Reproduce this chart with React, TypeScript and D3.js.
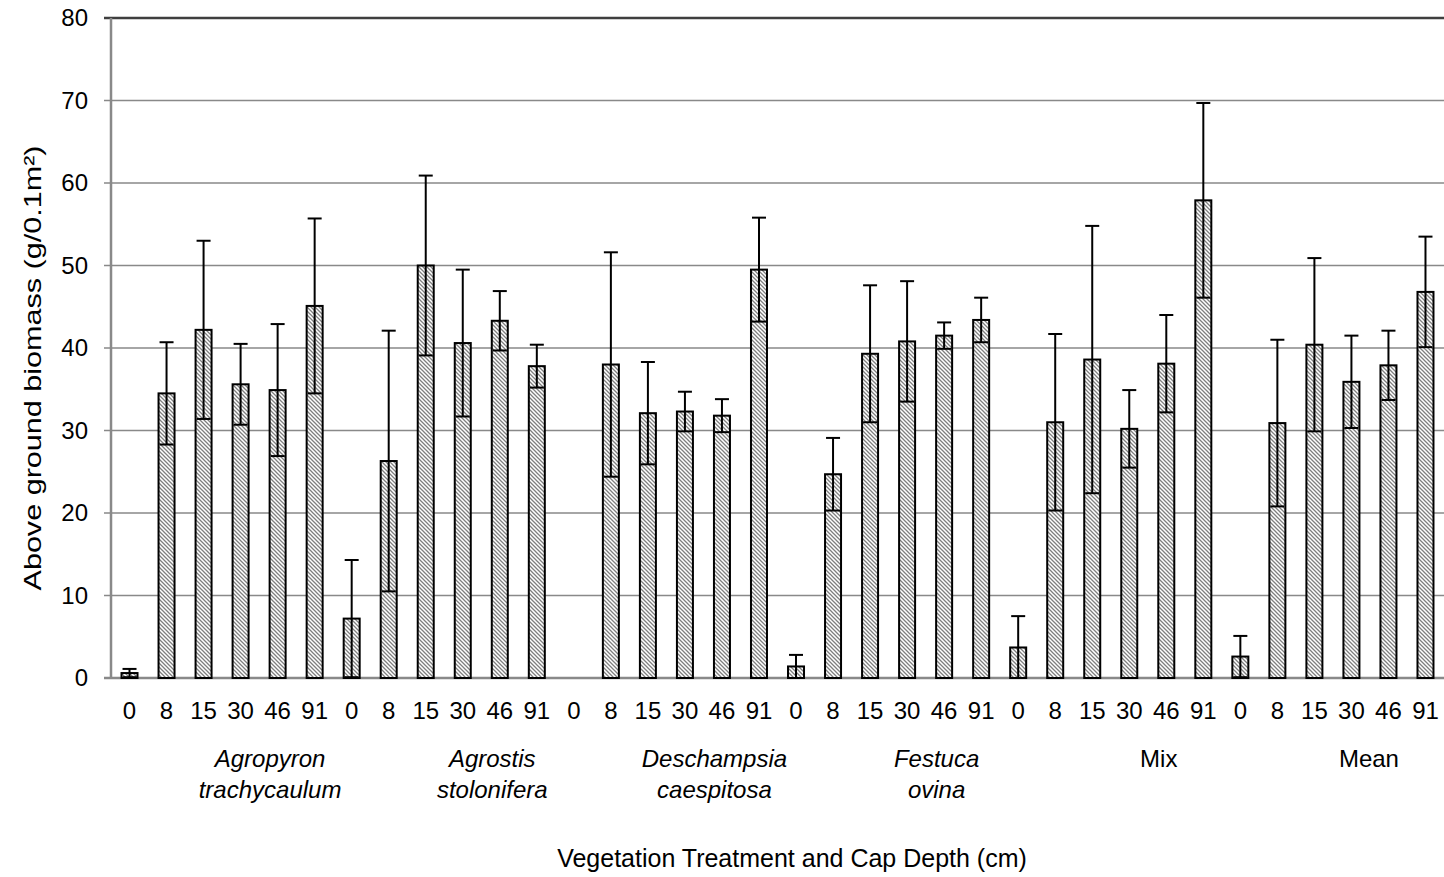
import React from "react";
import * as d3 from "d3";

const groups = ["Agropyron\ntrachycaulum", "Agrostis\nstolonifera", "Deschampsia\ncaespitosa", "Festuca\novina", "Mix", "Mean"];
const italicGroups = [true, true, true, true, false, false];
const depths = ["0", "8", "15", "30", "46", "91"];

const agropyronMean = [0.6, 34.5, 42.2, 35.6, 34.9, 45.1];
const agropyronErr = [0.5, 6.2, 10.8, 4.9, 8.0, 10.6];
const agrostisMean = [7.2, 26.3, 50.0, 40.6, 43.3, 37.8];
const agrostisErr = [7.1, 15.8, 10.9, 8.9, 3.6, 2.6];
const deschampsiaMean = [0, 38.0, 32.1, 32.3, 31.8, 49.5];
const deschampsiaErr = [0, 13.6, 6.2, 2.4, 2.0, 6.3];
const festucaMean = [1.4, 24.7, 39.3, 40.8, 41.5, 43.4];
const festucaErr = [1.4, 4.4, 8.3, 7.3, 1.6, 2.7];
const mixMean = [3.7, 31.0, 38.6, 30.2, 38.1, 57.9];
const mixErr = [3.8, 10.7, 16.2, 4.7, 5.9, 11.8];
const meanMean = [2.6, 30.9, 40.4, 35.9, 37.9, 46.8];
const meanErr = [2.5, 10.1, 10.5, 5.6, 4.2, 6.7];

const yTicks = [0, 10, 20, 30, 40, 50, 60, 70, 80];

const allMeans = [agropyronMean, agrostisMean, deschampsiaMean, festucaMean, mixMean, meanMean];
const allErrs = [agropyronErr, agrostisErr, deschampsiaErr, festucaErr, mixErr, meanErr];

const W = 1444;
const H = 877;
const left = 111;
const right = 1444;
const top = 18;
const bottom = 678;
const font = "'Liberation Sans', Arial, sans-serif";

export default function App() {
  const rows = allMeans.flatMap((ms, g) =>
    ms.map((m, i) => ({ key: `${g}-${i}`, g, depth: depths[i], mean: m, err: allErrs[g][i] }))
  );
  const x = d3.scaleBand<string>().domain(rows.map((r) => r.key)).range([left, right]).padding(0);
  const y = d3.scaleLinear().domain([0, 80]).range([bottom, top]);
  const bw = 16;
  const cap = 14;

  return (
    <svg width={W} height={H} style={{ position: "absolute", left: 0, top: 0, background: "#fff" }} fontFamily={font}>
      <defs>
        <pattern id="hatch" patternUnits="userSpaceOnUse" width={4} height={4}>
          <rect width={4} height={4} fill="#fff" />
          <path d="M-1,-1 L5,5 M-1,3 L1,5 M3,-1 L5,1" stroke="#7f7f7f" strokeWidth={1.3} />
        </pattern>
      </defs>
      {yTicks.map((t) => (
        <g key={t}>
          <line
            x1={left - 7}
            x2={right}
            y1={y(t)}
            y2={y(t)}
            stroke={t === 80 ? "#3f3f3f" : "#898989"}
            strokeWidth={t === 80 ? 2.5 : t === 0 ? 2.5 : 1.6}
          />
          <text x={88} y={y(t)} dy="0.35em" textAnchor="end" fontSize={24} fill="#000">
            {t}
          </text>
        </g>
      ))}
      <line x1={left} x2={left} y1={top} y2={bottom} stroke="#898989" strokeWidth={2.5} />
      {rows.map((r) => {
        const cx = (x(r.key) as number) + x.bandwidth() / 2;
        if (r.mean <= 0) return null;
        const lo = Math.max(0, r.mean - r.err);
        const hi = r.mean + r.err;
        return (
          <g key={r.key}>
            <rect
              x={cx - bw / 2}
              y={y(r.mean)}
              width={bw}
              height={y(0) - y(r.mean)}
              fill="url(#hatch)"
              stroke="#000"
              strokeWidth={2}
            />
            <line x1={cx} x2={cx} y1={y(lo)} y2={y(hi)} stroke="#000" strokeWidth={2} />
            <line x1={cx - cap / 2} x2={cx + cap / 2} y1={y(hi)} y2={y(hi)} stroke="#000" strokeWidth={2} />
            {lo > 0 && (
              <line x1={cx - cap / 2} x2={cx + cap / 2} y1={y(lo)} y2={y(lo)} stroke="#000" strokeWidth={2} />
            )}
          </g>
        );
      })}
      {rows.map((r) => {
        const cx = (x(r.key) as number) + x.bandwidth() / 2;
        return (
          <text key={"l" + r.key} x={cx} y={719} textAnchor="middle" fontSize={24} fill="#000">
            {r.depth}
          </text>
        );
      })}
      {groups.map((gname, g) => {
        const first = x(`${g}-0`) as number;
        const cx = first + 3 * x.bandwidth() + (g === 5 ? 36 : 48);
        const lines = gname.split("\n");
        return (
          <text
            key={gname}
            x={cx}
            y={767}
            textAnchor="middle"
            fontSize={24}
            fontStyle={italicGroups[g] ? "italic" : "normal"}
            fill="#000"
          >
            {lines.map((ln, i) => (
              <tspan key={i} x={cx} dy={i === 0 ? 0 : 31}>
                {ln}
              </tspan>
            ))}
          </text>
        );
      })}
      <text x={792} y={867} textAnchor="middle" fontSize={25} fill="#000">
        Vegetation Treatment and Cap Depth (cm)
      </text>
      <text
        transform={`translate(41, 368) rotate(-90)`}
        textAnchor="middle"
        fontSize={24}
        textLength={445}
        lengthAdjust="spacingAndGlyphs"
        fill="#000"
      >
        Above ground biomass (g/0.1m²)
      </text>
    </svg>
  );
}
